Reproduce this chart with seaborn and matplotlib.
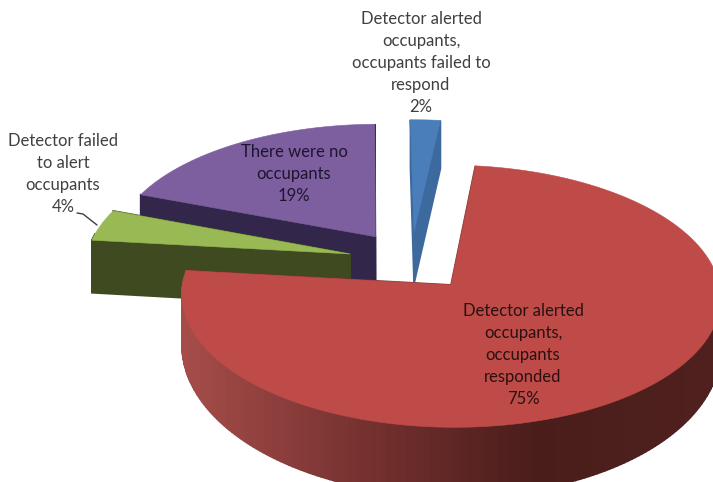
import numpy as np
import matplotlib
matplotlib.use("Agg")
import matplotlib.pyplot as plt
from matplotlib.patches import Polygon
import seaborn as sns

# ---- data ----
categories = [
    "Detector alerted\noccupants,\noccupants failed to\nrespond",
    "Detector alerted\noccupants,\noccupants\nresponded",
    "Detector failed\nto alert\noccupants",
    "There were no\noccupants",
]
shares = [2, 75, 4, 19]
top_colors = ["#4a7ebb", "#be4b48", "#98b954", "#7d5fa0"]
wall_colors = ["#3d6a9e", "#7b3331", "#3f4a20", "#32274a"]
wall_scale = [0.97, 0.88, 0.97, 0.97]
wall_front_gain = [0.0, 0.25, 0.0, 0.0]
draw_order = [3, 0, 2, 1]
label_centres = [(421, 63), (523, 355), (63, 174), (294, 174)]
label_colors = ["#404040", "#2a1010", "#404040", "#1f1430"]

# ---- projection of the exploded 3-D pie ----
CX, CY, RX, RY, PERSP, EXPLODE, HEIGHT = 411, 261, 264, 126, 0.085, 0.239, 55
ROTATION = np.deg2rad(-0.8)


def project(X, Y, Z=0.0):
    Y = np.asarray(Y, float)
    k = 1.0 / (1.0 + PERSP * Y)
    return CX + RX * np.asarray(X, float) * k, CY - RY * Y * k + HEIGHT * np.asarray(Z, float) * k


sns.set_theme(style="white")
plt.rcParams["font.family"] = ["Lato", "DejaVu Sans"]
fig = plt.figure(figsize=(7.13, 4.82), dpi=100, facecolor="white")
ax = fig.add_axes([0, 0, 1, 1])
ax.set_xlim(0, 713)
ax.set_ylim(482, 0)
ax.axis("off")

fractions = np.array(shares, float) / sum(shares)
edges = np.concatenate([[0], np.cumsum(fractions)]) * 2 * np.pi + ROTATION
red_ramp = sns.blend_palette(["#a64d4a", "#773230", "#4a1d1b", "#4f201e"], 200)


def quad(xa, ya, xb, yb, color, z, da, db):
    xt, yt = project([xa, xb], [ya, yb], 0)
    xd, yd = project([xb, xa], [yb, ya], [db, da])
    ax.add_patch(Polygon(list(zip(xt, yt)) + list(zip(xd, yd)), closed=True,
                         facecolor=color, edgecolor=color, lw=1.2, zorder=z))


for step, i in enumerate(draw_order):
    a0, a1 = edges[i], edges[i + 1]
    mid = (a0 + a1) / 2
    ox, oy = EXPLODE * np.sin(mid), EXPLODE * np.cos(mid)
    th = np.linspace(a0, a1, max(int((a1 - a0) * 60), 8))
    X = ox + np.sin(th)
    Y = oy + np.cos(th)
    base = 10 * step
    d = wall_scale[i] + wall_front_gain[i] * np.clip(-(Y - oy), 0, None)
    # radial cut faces
    quad(ox, oy, X[0], Y[0], wall_colors[i], base + 1, wall_scale[i], d[0])
    quad(ox, oy, X[-1], Y[-1], wall_colors[i], base + 1, wall_scale[i], d[-1])
    # outer rim, front part only
    for j in range(len(th) - 1):
        if Y[j] - oy < 0.15:
            if i == 1:
                px, _ = project(X[j], Y[j])
                c = red_ramp[int(np.clip((px - 181) / (713 - 181) * 199, 0, 199))]
            else:
                c = wall_colors[i]
            quad(X[j], Y[j], X[j + 1], Y[j + 1], c, base + 2, d[j], d[j + 1])
    # top face
    xs, ys = project(np.r_[ox, X], np.r_[oy, Y], 0)
    ax.add_patch(Polygon(np.c_[xs, ys], closed=True, facecolor=top_colors[i],
                         edgecolor=top_colors[i], lw=0.4, zorder=base + 3))

# labels
for i, (cat, share) in enumerate(zip(categories, shares)):
    ax.text(label_centres[i][0], label_centres[i][1], f"{cat}\n{share}%", ha="center", va="center",
            fontsize=12, color=label_colors[i], linespacing=1.47, zorder=100)

# leader line for the small green slice
ax.plot([77, 83, 97], [213, 214, 225], color="#404040", lw=1, zorder=100)

fig.savefig("out.png", dpi=100, facecolor="white")
